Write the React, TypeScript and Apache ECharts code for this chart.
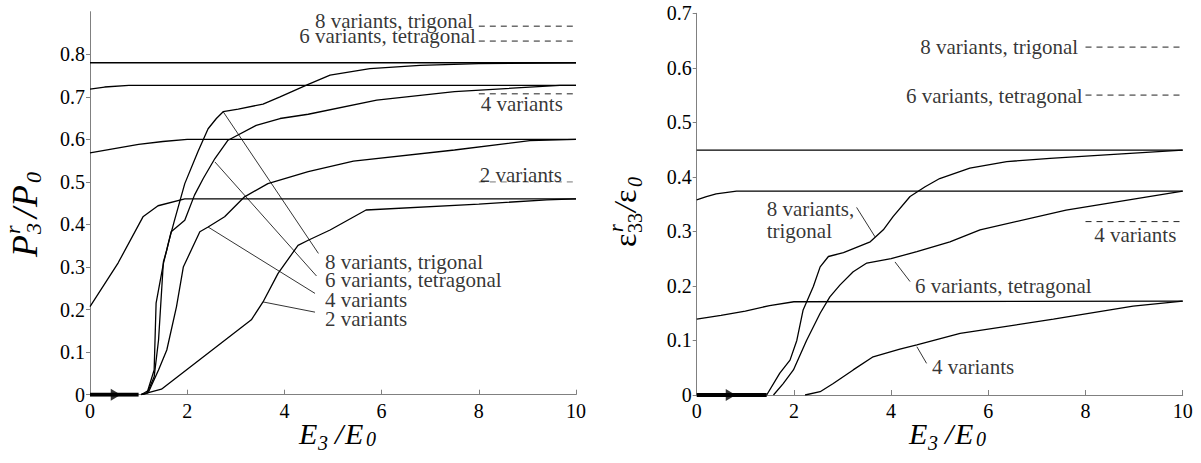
import React, { useEffect, useRef } from 'react';
import * as echarts from 'echarts';

const FONT = 'Liberation Serif';

// ---------- axes ----------
const xTicks = [0, 2, 4, 6, 8, 10];
const pTicks = [0, 0.1, 0.2, 0.3, 0.4, 0.5, 0.6, 0.7, 0.8];
const eTicks = [0, 0.1, 0.2, 0.3, 0.4, 0.5, 0.6, 0.7];

// ---------- left panel: P3r / P0 ----------
const pLoad8 = [[1.05, 0], [1.17, 0.003], [1.32, 0.058], [1.36, 0.215], [1.51, 0.308], [1.61, 0.355], [1.73, 0.406], [1.95, 0.496], [2.22, 0.571], [2.43, 0.625], [2.6, 0.649], [2.74, 0.665], [3.05, 0.671], [3.56, 0.683], [3.91, 0.7], [4.49, 0.729], [4.94, 0.751], [5.76, 0.766], [6.79, 0.774], [8.0, 0.778], [10, 0.78]];
const pLoad6 = [[1.05, 0], [1.2, 0.01], [1.32, 0.042], [1.41, 0.128], [1.51, 0.312], [1.58, 0.34], [1.67, 0.383], [1.95, 0.41], [2.15, 0.469], [2.33, 0.508], [2.57, 0.555], [2.84, 0.598], [3.42, 0.633], [3.91, 0.649], [4.49, 0.659], [5.9, 0.692], [7.5, 0.712], [9.67, 0.727], [10, 0.727]];
const pLoad4 = [[1.05, 0], [1.2, 0.005], [1.41, 0.058], [1.58, 0.105], [1.78, 0.207], [1.92, 0.3], [2.26, 0.383], [2.43, 0.394], [2.77, 0.418], [3.18, 0.465], [3.66, 0.496], [4.49, 0.524], [5.42, 0.549], [7.5, 0.575], [9.05, 0.597], [10, 0.6]];
const pLoad2 = [[1.05, 0], [1.47, 0.013], [3.32, 0.176], [3.56, 0.218], [3.87, 0.285], [4.28, 0.351], [4.49, 0.363], [4.94, 0.387], [5.68, 0.434], [8.0, 0.448], [9.4, 0.458], [10, 0.46]];
const pUnload8 = [[0, 0.78], [10, 0.78]];
const pUnload6 = [[0, 0.718], [0.3, 0.723], [0.8, 0.727], [10, 0.727]];
const pUnload4 = [[0, 0.568], [0.5, 0.578], [1, 0.588], [1.5, 0.595], [2, 0.6], [10, 0.6]];
const pUnload2 = [[0, 0.207], [0.58, 0.31], [1.09, 0.418], [1.4, 0.444], [1.95, 0.46], [10, 0.46]];
const pArrow = [[0, 0], [1.0, 0]];
const pArrowHead = [0.53, 0];
const pLimits = [0.866, 0.831, 0.707, 0.5];
const pLimitTexts = ['8 variants, trigonal', '6 variants, tetragonal', '4 variants', '2 variants'];
const pLimitAnchors = [[7.88, 0.877], [7.94, 0.842], [9.73, 0.683], [9.71, 0.516]];
const pNoteTexts = ['8 variants, trigonal', '6 variants, tetragonal', '4 variants', '2 variants'];
const pNoteAnchors = [[4.835, 0.312], [4.835, 0.27], [4.835, 0.223], [4.835, 0.179]];
const pLeaders = [
  [[2.74, 0.665], [4.7, 0.332]],
  [[2.57, 0.547], [4.66, 0.279]],
  [[2.43, 0.394], [4.63, 0.238]],
  [[3.56, 0.218], [4.63, 0.194]],
];

// ---------- right panel: eps33r / eps0 ----------
const eLoad8 = [[1.44, 0], [1.71, 0.04], [1.92, 0.064], [2.06, 0.1], [2.19, 0.156], [2.4, 0.199], [2.54, 0.235], [2.71, 0.254], [3.02, 0.261], [3.57, 0.281], [3.84, 0.303], [4.04, 0.327], [4.39, 0.364], [4.7, 0.382], [5.0, 0.397], [5.62, 0.416], [6.38, 0.428], [7.27, 0.434], [8.5, 0.441], [10, 0.449]];
const eLoad6 = [[1.58, 0], [1.78, 0.021], [1.99, 0.046], [2.26, 0.1], [2.54, 0.15], [2.74, 0.18], [2.95, 0.202], [3.22, 0.226], [3.5, 0.242], [4.0, 0.25], [4.53, 0.263], [5.21, 0.281], [5.83, 0.303], [7.6, 0.339], [10, 0.374]];
const eLoad4 = [[2.23, 0], [2.54, 0.006], [2.81, 0.021], [3.22, 0.046], [3.63, 0.07], [4.18, 0.084], [4.53, 0.092], [5.42, 0.113], [7.34, 0.139], [8.98, 0.163], [10, 0.172]];
const eUnload8 = [[0, 0.449], [10, 0.449]];
const eUnload6 = [[0, 0.358], [0.2, 0.364], [0.4, 0.369], [0.82, 0.374], [10, 0.374]];
const eUnload4 = [[0, 0.139], [0.5, 0.146], [1, 0.154], [1.5, 0.164], [2, 0.171], [10, 0.172]];
const eArrow = [[0, 0], [1.44, 0]];
const eArrowHead = [0.7, 0];
const eLimits = [0.638, 0.55, 0.318];
const eLimitTexts = ['8 variants, trigonal', '6 variants, tetragonal', '4 variants'];
const eLimitAnchors = [[7.85, 0.638], [7.94, 0.548], [9.87, 0.293]];
const eNoteTexts = ['8 variants,\ntrigonal', '6 variants, tetragonal', '4 variants'];
const eNoteAnchors = [[1.44, 0.321], [4.49, 0.199], [4.84, 0.052]];
const eLeaders = [
  [[3.29, 0.344], [3.67, 0.29]],
  [[4.08, 0.244], [4.39, 0.208]],
  [[4.53, 0.0886], [4.73, 0.058]],
];

const limitFrom = 8;
const limitTo = 10;

function curve(data: number[][], gi: number, width = 1.3) {
  return {
    type: 'line', xAxisIndex: gi, yAxisIndex: gi, data,
    symbol: 'none', showSymbol: false, silent: true, z: 3,
    lineStyle: { color: '#000', width },
  };
}

function dashed(v: number, gi: number, color: string) {
  return {
    type: 'line', xAxisIndex: gi, yAxisIndex: gi,
    data: [[limitFrom, v], [limitTo, v]],
    symbol: 'none', showSymbol: false, silent: true, z: 2,
    lineStyle: { color, width: 1, type: [6, 5] },
  };
}

function notes(texts: string[], anchors: number[][], gi: number, position: string) {
  return {
    type: 'scatter', xAxisIndex: gi, yAxisIndex: gi, silent: true, z: 5,
    symbolSize: 0,
    data: texts.map((t, i) => ({
      value: anchors[i],
      label: {
        show: true, position, distance: 0, formatter: t,
        color: '#000', fontFamily: FONT, fontSize: 21,
        lineHeight: t.indexOf('\n') >= 0 ? 22 : 15,
        align: position === 'left' ? 'right' : 'left',
      },
    })),
  };
}

function arrowHead(p: number[], gi: number) {
  return {
    type: 'scatter', xAxisIndex: gi, yAxisIndex: gi, silent: true, z: 6,
    symbol: 'triangle', symbolSize: [12, 10], symbolRotate: -90,
    itemStyle: { color: '#000' },
    data: [p],
  };
}

function xAxis(gi: number) {
  return {
    type: 'value', gridIndex: gi, min: 0, max: 10, interval: 2,
    axisLine: { show: true, onZero: false, lineStyle: { color: '#808080', width: 1 } },
    axisTick: { show: true, inside: true, length: 5, customValues: xTicks, lineStyle: { color: '#808080' } },
    axisLabel: { color: '#000', fontFamily: FONT, fontSize: 20, margin: 6, customValues: xTicks },
    splitLine: { show: false },
  };
}

function yAxis(gi: number, max: number, ticks: number[]) {
  return {
    type: 'value', gridIndex: gi, min: 0, max, interval: 0.1,
    axisLine: { show: true, onZero: false, lineStyle: { color: '#808080', width: 1 } },
    axisTick: { show: true, inside: false, length: 4, customValues: ticks, lineStyle: { color: '#808080' } },
    axisLabel: {
      color: '#000', fontFamily: FONT, fontSize: 20, margin: 5, customValues: ticks,
      formatter: (v: number) => (Math.abs(v) < 1e-9 ? '0' : v.toFixed(1)),
    },
    splitLine: { show: false },
  };
}

function txt(text: string, x: number, y: number, size: number, italic = true) {
  return {
    type: 'text', x, y, silent: true,
    style: {
      text, fill: '#000',
      font: (italic ? 'italic ' : '') + size + 'px "Liberation Serif"',
      align: 'left', verticalAlign: 'middle',
    },
  };
}

function xTitle(dx: number) {
  return {
    type: 'group', x: dx, y: 0,
    children: [
      txt('E', 299, 433, 30),
      txt('3', 318, 443, 20),
      txt('/', 335, 433, 30),
      txt('E', 345, 433, 30),
      txt('0', 366, 439, 20),
    ],
  };
}

export default function App() {
  const ref = useRef<HTMLDivElement>(null);
  useEffect(() => {
    if (!ref.current) return;
    const chart = echarts.init(ref.current, undefined, { renderer: 'svg' });
    const series: any[] = [
      ...[pUnload8, pUnload6, pUnload4, pUnload2, pLoad8, pLoad6, pLoad4, pLoad2].map((d) => curve(d, 0)),
      ...pLeaders.map((d) => curve(d, 0, 0.8)),
      ...pLimits.map((v, i) => dashed(v, 0, i === 3 ? '#777' : '#222')),
      { ...curve(pArrow, 0, 4), z: 6 },
      arrowHead(pArrowHead, 0),
      notes(pLimitTexts, pLimitAnchors, 0, 'left'),
      notes(pNoteTexts, pNoteAnchors, 0, 'right'),
      ...[eUnload8, eUnload6, eUnload4, eLoad8, eLoad6, eLoad4].map((d) => curve(d, 1)),
      ...eLeaders.map((d) => curve(d, 1, 0.8)),
      ...eLimits.map((v) => dashed(v, 1, '#222')),
      { ...curve(eArrow, 1, 4), z: 6 },
      arrowHead(eArrowHead, 1),
      notes(eLimitTexts, eLimitAnchors, 1, 'left'),
      notes(eNoteTexts, eNoteAnchors, 1, 'right'),
    ];
    chart.setOption({
      animation: false,
      backgroundColor: '#fff',
      textStyle: { fontFamily: FONT },
      grid: [
        { left: 90, top: 11.7, width: 486, height: 383 },
        { left: 696.7, top: 13.3, width: 486, height: 381.7 },
      ],
      xAxis: [xAxis(0), xAxis(1)],
      yAxis: [yAxis(0, 0.9, pTicks), yAxis(1, 0.7, eTicks)],
      series,
      graphic: [
        xTitle(0),
        xTitle(610),
        {
          type: 'group', x: 40, y: 257, rotation: Math.PI / 2,
          children: [
            txt('P', 0, -15, 36),
            txt('r', 23, -28, 22),
            txt('3', 23, -7, 22),
            txt('/', 39, -15, 36),
            txt('P', 50, -15, 36),
            txt('0', 74, -7, 22),
          ],
        },
        {
          type: 'group', x: 636, y: 247, rotation: Math.PI / 2,
          children: [
            txt('ε', 0, -11, 32, false),
            txt('r', 15, -20, 20),
            txt('33', 14, -1, 20, false),
            txt('/', 35, -11, 32),
            txt('ε', 44, -11, 32, false),
            txt('0', 60, -1, 20),
          ],
        },
      ],
    });
    return () => chart.dispose();
  }, []);
  return (
    <div
      ref={ref}
      style={{ position: 'fixed', left: 0, top: 0, width: 1201, height: 463, background: '#fff' }}
    />
  );
}
